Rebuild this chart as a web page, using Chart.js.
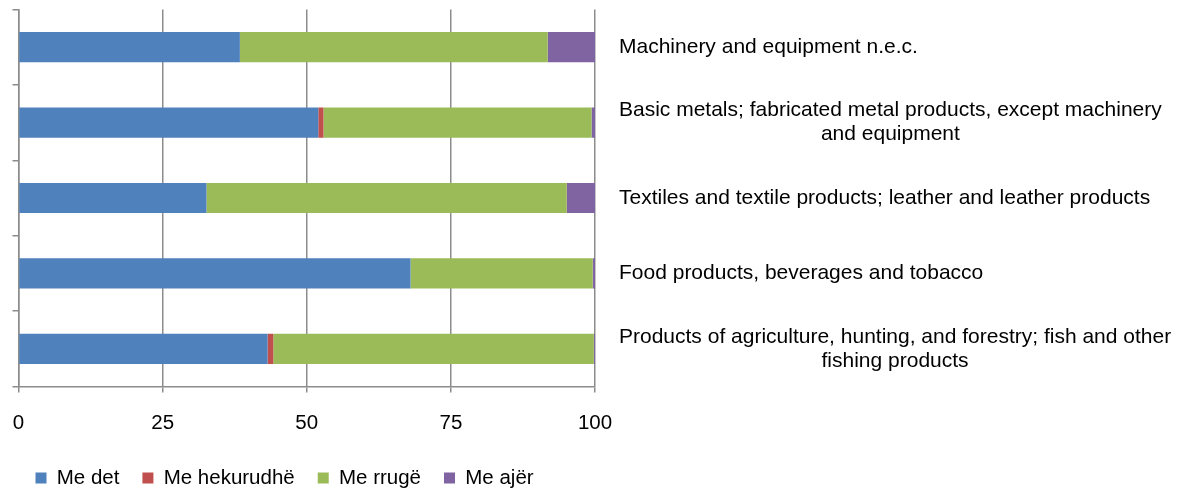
<!DOCTYPE html>
<html>
<head>
<meta charset="utf-8">
<script src="https://cdn.jsdelivr.net/npm/chart.js@4.4.1/dist/chart.umd.min.js"></script>
<style>
  html, body { margin: 0; padding: 0; background: #fff; }
  canvas { display: block; }
</style>
</head>
<body>
<canvas id="chart" width="1187" height="490"></canvas>
<script>
// categories, top to bottom (multi-line labels as arrays)
const categories = [
  ['Machinery and equipment n.e.c.'],
  ['Basic metals; fabricated metal products, except machinery', 'and equipment'],
  ['Textiles and textile products; leather and leather products'],
  ['Food products, beverages and tobacco'],
  ['Products of agriculture, hunting, and forestry; fish and other', 'fishing products'],
];

const meDet        = [38.4, 52.0, 32.6, 68.0, 43.2];
const meHekurudhe  = [0.0,  0.9,  0.0,  0.0,  1.0];
const meRruge      = [53.4, 46.5, 62.5, 31.6, 55.6];
const meAjer       = [8.2,  0.6,  4.9,  0.4,  0.2];

const xTicks = [0, 25, 50, 75, 100];

const axisGray = '#8c8c8c';
const font = { family: '"Liberation Sans", Arial, sans-serif', size: 20.5 };

// ── category labels drawn to the right of the plot ──
const sideLabels = {
  id: 'sideLabels',
  afterDraw(chart) {
    const { ctx, chartArea, scales: { y } } = chart;
    ctx.save();
    ctx.font = '21px "Liberation Sans", Arial, sans-serif';
    ctx.fillStyle = '#000';
    ctx.textAlign = 'center';
    ctx.textBaseline = 'middle';
    const left = chartArea.right + 24;
    categories.forEach((lines, i) => {
      const w = Math.max(...lines.map(l => ctx.measureText(l).width));
      const cx = left + w / 2;
      const cy = y.getPixelForValue(i);
      lines.forEach((l, j) => {
        ctx.fillText(l, cx, cy + (j - (lines.length - 1) / 2) * 24);
      });
    });
    ctx.restore();
  },
};

new Chart(document.getElementById('chart'), {
  type: 'bar',
  data: {
    labels: categories.map(c => c.join(' ')),
    datasets: [
      { label: 'Me det',       data: meDet,       backgroundColor: '#4f81bd' },
      { label: 'Me hekurudhë', data: meHekurudhe, backgroundColor: '#c0504d' },
      { label: 'Me rrugë',     data: meRruge,     backgroundColor: '#9bbb59' },
      { label: 'Me ajër',      data: meAjer,      backgroundColor: '#8064a2' },
    ],
  },
  options: {
    indexAxis: 'y',
    responsive: false,
    animation: false,
    datasets: {
      bar: { categoryPercentage: 1, barPercentage: 0.4, borderWidth: 0 },
    },
    layout: { padding: { left: 12.5, right: 592, top: 9.5, bottom: -8.25 } },
    plugins: {
      tooltip: { enabled: false },
      legend: {
        position: 'bottom',
        align: 'start',
        labels: {
          boxWidth: 11,
          boxHeight: 11,
          padding: 23,
          color: '#000',
          font,
        },
      },
    },
    scales: {
      x: {
        type: 'linear',
        stacked: true,
        min: 0,
        max: 100,
        afterBuildTicks: s => { s.ticks = xTicks.map(v => ({ value: v })); },
        afterFit: s => { s.height = 58.25; s.paddingLeft = 0; s.paddingRight = 0; },
        ticks: { color: '#000', font, padding: 19, maxRotation: 0 },
        grid: { color: axisGray, lineWidth: 1.5, tickLength: 6 },
        border: { color: axisGray, width: 1.5 },
      },
      y: {
        stacked: true,
        afterFit: s => { s.width = 6; },
        ticks: { display: false },
        grid: { drawOnChartArea: false, offset: true, color: axisGray, lineWidth: 1.5, tickLength: 6 },
        border: { color: axisGray, width: 1.5 },
      },
    },
  },
  plugins: [sideLabels],
});
</script>
</body>
</html>
